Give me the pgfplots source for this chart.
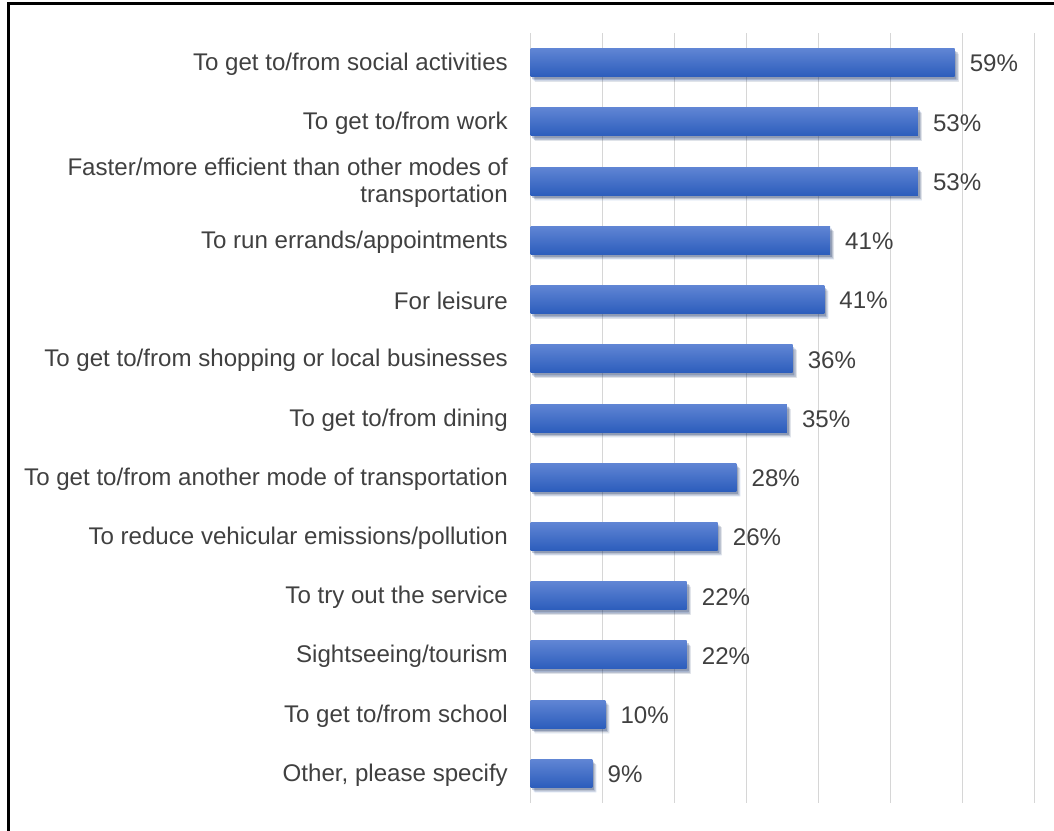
\documentclass[border=0pt]{standalone}
\usepackage{pgfplots}
\pgfplotsset{compat=1.18}
\usepackage{fontspec}
\setmainfont{Liberation Sans}
\usetikzlibrary{shadows}
\definecolor{txt}{RGB}{64,64,64}
\definecolor{btop}{RGB}{96,133,212}
\definecolor{bbot}{RGB}{44,93,188}
\definecolor{gridc}{RGB}{214,214,214}
\pgfplotsset{mybar/.style={draw=none, top color=btop, bottom color=bbot, bar shift=0pt,
  drop shadow={shadow xshift=4bp, shadow yshift=-5bp, fill=black, opacity=0.07},
  drop shadow={shadow xshift=3bp, shadow yshift=-3.8bp, fill=black, opacity=0.1},
  drop shadow={shadow xshift=1.8bp, shadow yshift=-2.5bp, fill=black, opacity=0.14}}}
\begin{document}
\fontsize{24.1bp}{27bp}\selectfont
\begin{tikzpicture}
\useasboundingbox (0,0) rectangle (1054bp,831bp);
\draw[line width=2.6bp, black] (8.7bp,-20bp) -- (8.7bp,827.3bp) -- (1080bp,827.3bp);
\begin{axis}[
  at={(530.5bp,28bp)}, anchor=south west,
  scale only axis, width=504bp, height=770bp,
  xbar, bar width=28bp,
  xmin=0, xmax=70, ymin=-0.5, ymax=12.5,
  y dir=reverse,
  xtick={0,10,...,70}, xticklabels={},
  xmajorgrids, grid style={gridc, line width=1.9bp},
  ytick={0,...,12},
  yticklabels={To get to/from social activities,To get to/from work,{Faster/more efficient than other modes of\\transportation},To run errands/appointments,For leisure,To get to/from shopping or local businesses,To get to/from dining,To get to/from another mode of transportation,To reduce vehicular emissions/pollution,To try out the service,Sightseeing/tourism,To get to/from school,{Other, please specify}},
  yticklabel style={align=right, inner sep=0pt, xshift=-22.5bp, yshift=-1.8bp, text=txt, font=\fontsize{24.1bp}{27bp}\selectfont},
  axis line style={draw=none}, tick style={draw=none},
  major tick length=0pt,
  point meta=explicit symbolic,
  nodes near coords,
  every node near coord/.append style={anchor=west, inner sep=0pt, xshift=15bp, yshift=-1bp, text=txt, font=\fontsize{24.1bp}{27bp}\selectfont},
  clip=false,
]
\addplot[mybar] coordinates {(58.9,0) [59\%]};
\addplot[mybar] coordinates {(53.8,1) [53\%]};
\addplot[mybar] coordinates {(53.8,2) [53\%]};
\addplot[mybar] coordinates {(41.6,3) [41\%]};
\addplot[mybar] coordinates {(40.8,4) [41\%]};
\addplot[mybar] coordinates {(36.4,5) [36\%]};
\addplot[mybar] coordinates {(35.6,6) [35\%]};
\addplot[mybar] coordinates {(28.6,7) [28\%]};
\addplot[mybar] coordinates {(26.0,8) [26\%]};
\addplot[mybar] coordinates {(21.7,9) [22\%]};
\addplot[mybar] coordinates {(21.7,10) [22\%]};
\addplot[mybar] coordinates {(10.4,11) [10\%]};
\addplot[mybar] coordinates {(8.6,12) [9\%]};
\end{axis}
\end{tikzpicture}
\end{document}
